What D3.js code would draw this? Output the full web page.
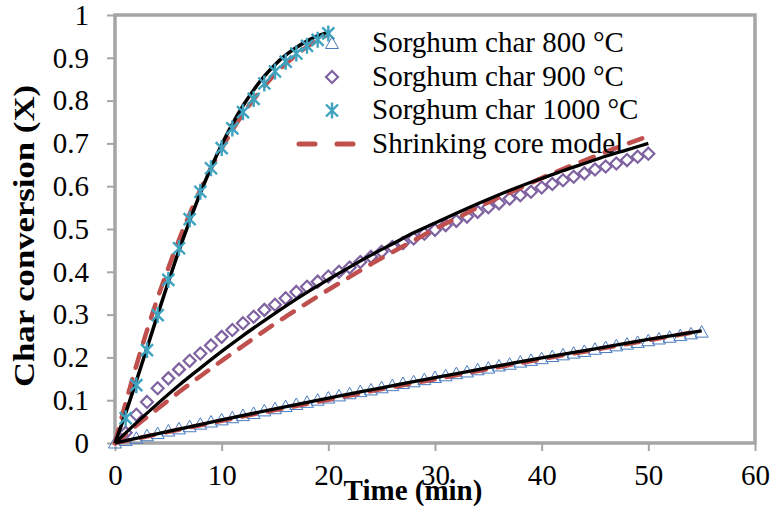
<!DOCTYPE html>
<html>
<head>
<meta charset="utf-8">
<script src="https://cdn.jsdelivr.net/npm/d3@7"></script>
<style>
  body { margin: 0; background: #fff; }
  svg text { font-family: "Liberation Serif", "Times New Roman", serif; }
</style>
</head>
<body>
<div id="chart"></div>
<script>
// measured points (min, X)
var t800 = d3.range(0, 56);
var x800 = [0.000, 0.006, 0.011, 0.017, 0.022, 0.028, 0.033, 0.038, 0.044, 0.049,
            0.054, 0.059, 0.064, 0.069, 0.075, 0.080, 0.085, 0.090, 0.095, 0.100,
            0.105, 0.110, 0.115, 0.120, 0.124, 0.129, 0.134, 0.139, 0.143, 0.148,
            0.153, 0.157, 0.162, 0.166, 0.171, 0.175, 0.180, 0.184, 0.189, 0.193,
            0.197, 0.202, 0.206, 0.210, 0.214, 0.219, 0.223, 0.227, 0.231, 0.235,
            0.239, 0.243, 0.247, 0.251, 0.255, 0.259];
var t900 = d3.range(1, 51);
var x900 = [0.024, 0.066, 0.096, 0.128, 0.151, 0.172, 0.192, 0.209, 0.228, 0.248,
            0.264, 0.280, 0.295, 0.311, 0.323, 0.338, 0.353, 0.365, 0.377, 0.389,
            0.400, 0.410, 0.423, 0.435, 0.447, 0.458, 0.467, 0.478, 0.489, 0.498,
            0.509, 0.519, 0.529, 0.540, 0.551, 0.560, 0.571, 0.579, 0.587, 0.597,
            0.605, 0.614, 0.622, 0.630, 0.639, 0.646, 0.653, 0.661, 0.669, 0.676];
var t1000 = d3.range(1, 21);
var x1000 = [0.058, 0.135, 0.217, 0.299, 0.381, 0.455, 0.523, 0.587, 0.642, 0.689,
             0.735, 0.773, 0.804, 0.840, 0.868, 0.891, 0.910, 0.928, 0.942, 0.957];

// model curves
var mt800 = [0, 5, 10, 15, 20, 25, 30, 35, 40, 45, 50, 55];
var fit800 = [0, 0.027, 0.054, 0.080, 0.105, 0.129, 0.153, 0.176, 0.199, 0.220, 0.242, 0.262];
var scm800 = [0, 0.026, 0.052, 0.077, 0.101, 0.126, 0.149, 0.173, 0.196, 0.218, 0.240, 0.262];
var mt900 = [0, 2, 4, 6, 8, 10, 12, 14, 16, 18, 20, 22, 24, 26, 28, 30, 32, 34, 36, 38, 40, 42, 44, 46, 48, 50];
var fit900 = [0, 0.047, 0.092, 0.135, 0.175, 0.214, 0.251, 0.286, 0.320, 0.352, 0.382, 0.411, 0.439,
              0.465, 0.491, 0.514, 0.537, 0.559, 0.580, 0.600, 0.618, 0.636, 0.653, 0.670, 0.685, 0.700];
var scm900 = [0, 0.041, 0.080, 0.119, 0.156, 0.192, 0.227, 0.262, 0.295, 0.327, 0.358, 0.388, 0.418,
              0.446, 0.473, 0.500, 0.525, 0.550, 0.574, 0.596, 0.619, 0.640, 0.660, 0.680, 0.699, 0.717];
var mt1000 = [0, 1, 2, 3, 4, 5, 6, 7, 8, 9, 10, 11, 12, 13, 14, 15, 16, 17, 18, 19, 20];
var fit1000 = [0, 0.070, 0.145, 0.222, 0.300, 0.376, 0.450, 0.519, 0.584, 0.643, 0.697,
               0.745, 0.788, 0.825, 0.857, 0.884, 0.906, 0.924, 0.939, 0.951, 0.960];
var scm1000 = [0, 0.094, 0.181, 0.263, 0.339, 0.409, 0.475, 0.535, 0.591, 0.642, 0.688,
               0.731, 0.769, 0.803, 0.834, 0.862, 0.886, 0.907, 0.926, 0.941, 0.955];

var xTicks = [0, 10, 20, 30, 40, 50, 60];
var yTicks = [0, 0.1, 0.2, 0.3, 0.4, 0.5, 0.6, 0.7, 0.8, 0.9, 1];
var legendLabels = ["Sorghum char 800 °C", "Sorghum char 900 °C", "Sorghum char 1000 °C", "Shrinking core model"];

var W = 775, H = 514;
var m = {left: 115, right: 20, top: 15, bottom: 71};
var axisGrey = "#a5a5a5";

var svg = d3.select("#chart").append("svg").attr("width", W).attr("height", H);

var x = d3.scaleLinear().domain([0, 60]).range([m.left, W - m.right]);
var y = d3.scaleLinear().domain([0, 1]).range([H - m.bottom, m.top]);

// axes
var gx = svg.append("g").attr("transform", "translate(0," + y(0) + ")")
	.call(d3.axisBottom(x).tickValues(xTicks).tickSize(8).tickFormat(d3.format("d")));
gx.select(".domain").remove();
gx.selectAll("line").attr("stroke", axisGrey).attr("stroke-width", 2);
gx.selectAll("text").attr("y", 42).attr("dy", 0).attr("font-size", 29).attr("fill", "#000")
	.style("font-family", "Liberation Serif, serif");

var gy = svg.append("g").attr("transform", "translate(" + x(0) + ",0)")
	.call(d3.axisLeft(y).tickValues(yTicks).tickSize(8).tickPadding(18).tickFormat(d3.format(".1~f")));
gy.select(".domain").remove();
gy.selectAll("line").attr("stroke", axisGrey).attr("stroke-width", 2);
gy.selectAll("text").attr("font-size", 29).attr("fill", "#000")
	.style("font-family", "Liberation Serif, serif");

// frame
svg.append("rect")
	.attr("x", x(0)).attr("y", y(1))
	.attr("width", x(60) - x(0)).attr("height", y(0) - y(1))
	.attr("fill", "none").attr("stroke", axisGrey).attr("stroke-width", 3.5);

// markers
var triPath = "M0,-6.5L6.5,5L-6.5,5Z";
var diaPath = "M0,-6L6,0L0,6L-6,0Z";
var starPath = "M-6,-6L6,6M-6,6L6,-6M0,-8L0,8";

function drawMarkers(ts, vals, path, stroke, sw) {
	svg.append("g").selectAll("path").data(ts).enter().append("path")
		.attr("d", path)
		.attr("transform", function(d, i) { return "translate(" + x(d) + "," + y(vals[i]) + ")"; })
		.attr("fill", "none").attr("stroke", stroke).attr("stroke-width", sw);
}

function drawLine(ts, vals, stroke, sw, dash) {
	var line = d3.line()
		.x(function(d) { return x(d); })
		.y(function(d, i) { return y(vals[i]); })
		.curve(d3.curveMonotoneX);
	var p = svg.append("path").datum(ts).attr("d", line)
		.attr("fill", "none").attr("stroke", stroke).attr("stroke-width", sw);
	if (dash) {
		p.attr("stroke-dasharray", dash).attr("stroke-linecap", "round");
	}
}

drawMarkers(t800, x800, triPath, "#4a7cc0", 1);
drawMarkers(t900, x900, diaPath, "#7f63a1", 2.2);

var red = "#c0504d";
drawLine(mt800, scm800, red, 4.5, "14,12");
drawLine(mt900, scm900, red, 4.5, "14,12");
drawLine(mt1000, scm1000, red, 4.5, "14,12");
drawLine(mt800, fit800, "#000", 3.3);
drawLine(mt900, fit900, "#000", 3.3);
drawLine(mt1000, fit1000, "#000", 3.5);

drawMarkers(t1000, x1000, starPath, "#3fa3bf", 2.4);

// legend
var lg = svg.append("g");
var rowY = [43.5, 77, 110.5, 144];
lg.append("path").attr("d", triPath).attr("transform", "translate(332," + rowY[0] + ")")
	.attr("fill", "none").attr("stroke", "#4a7cc0").attr("stroke-width", 1);
lg.append("path").attr("d", diaPath).attr("transform", "translate(332," + rowY[1] + ")")
	.attr("fill", "none").attr("stroke", "#7f63a1").attr("stroke-width", 2.2);
lg.append("path").attr("d", starPath).attr("transform", "translate(332," + rowY[2] + ")")
	.attr("fill", "none").attr("stroke", "#3fa3bf").attr("stroke-width", 2.4);
lg.append("line").attr("x1", 299).attr("x2", 356).attr("y1", rowY[3]).attr("y2", rowY[3])
	.attr("stroke", red).attr("stroke-width", 5).attr("stroke-dasharray", "16,22").attr("stroke-linecap", "round");
lg.selectAll("text.lab").data(legendLabels).enter().append("text")
	.attr("class", "lab")
	.attr("x", 372).attr("y", function(d, i) { return rowY[i] + 8.5; })
	.attr("font-size", 29).attr("fill", "#000")
	.text(function(d) { return d; });

// axis titles
svg.append("text")
	.attr("x", 413).attr("y", 500).attr("text-anchor", "middle")
	.attr("font-size", 29).attr("font-weight", "bold")
	.text("Time (min)");
svg.append("text")
	.attr("transform", "translate(34,236) rotate(-90)")
	.attr("text-anchor", "middle")
	.attr("font-size", 30).attr("font-weight", "bold")
	.attr("textLength", 302).attr("lengthAdjust", "spacingAndGlyphs")
	.text("Char conversion (X)");
</script>
</body>
</html>
